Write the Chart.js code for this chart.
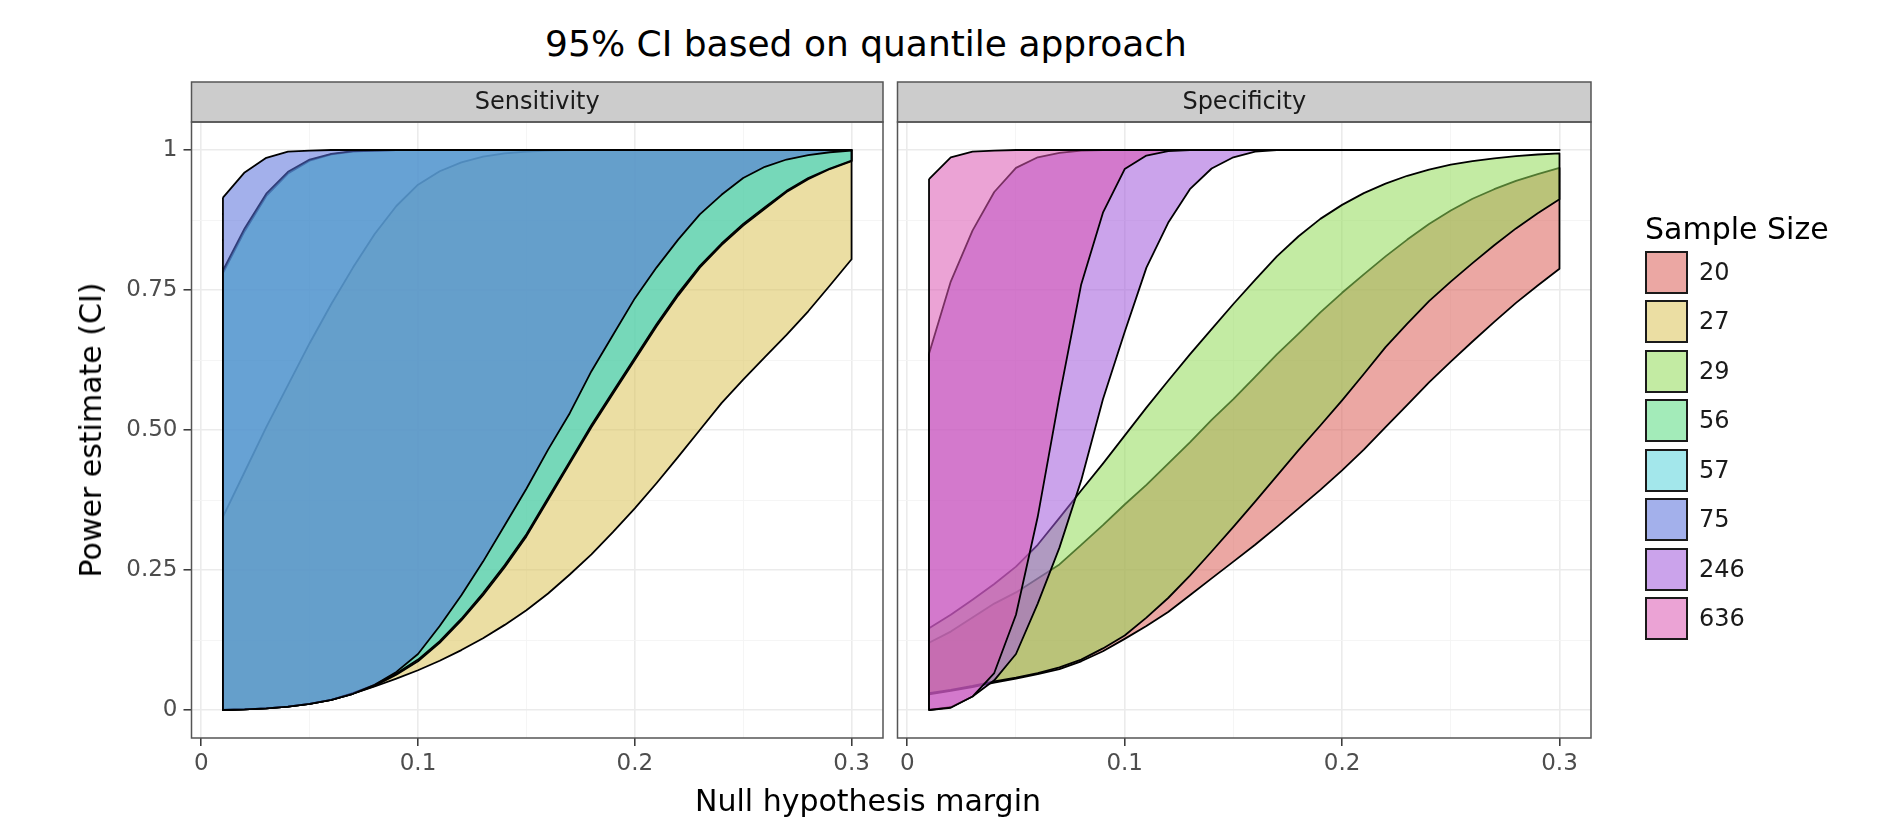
<!DOCTYPE html>
<html lang="en">
<head>
<meta charset="utf-8">
<title>95% CI based on quantile approach</title>
<script src="https://cdn.jsdelivr.net/npm/chart.js@4.4.0/dist/chart.umd.min.js"></script>
<style>
  html, body { margin: 0; padding: 0; background: #ffffff; }
  body { position: relative; width: 1899px; height: 821px; overflow: hidden; font-family: "DejaVu Sans", sans-serif; color: #000; }
  canvas { position: absolute; left: 0; top: 0; }
  .texto { position: absolute; white-space: nowrap; }
  #titulo { left: 366px; width: 1000px; top: 26px; font-size: 36px; line-height: 36px; text-align: center; }
  #titulo-x { left: 368px; width: 1000px; top: 786px; font-size: 30px; line-height: 30px; text-align: center; }
  #titulo-y { left: 91px; top: 430px; font-size: 30px; line-height: 30px; transform: translate(-50%, -50%) rotate(-90deg); }
  #legenda-titulo { left: 1645px; top: 214px; font-size: 30px; line-height: 30px; }
  .chave { position: absolute; left: 1645px; width: 43px; height: 43px; box-sizing: border-box; border: 2px solid #1a1a1a; }
  .rotulo { position: absolute; left: 1699px; font-size: 24px; line-height: 43px; color: #1a1a1a; }
</style>
</head>
<body>
<div id="titulo" class="texto">95% CI based on quantile approach</div>
<canvas id="grafico-sensibilidade" width="1899" height="821"></canvas>
<canvas id="grafico-especificidade" width="1899" height="821"></canvas>
<div id="titulo-y" class="texto">Power estimate (CI)</div>
<div id="titulo-x" class="texto">Null hypothesis margin</div>
<div id="legenda-titulo" class="texto">Sample Size</div>
<div id="legenda"></div>

<script>
// margem da hipotese nula (eixo x)
var xMargem = [0.01, 0.02, 0.03, 0.04, 0.05, 0.06, 0.07, 0.08, 0.09, 0.10,
  0.11, 0.12, 0.13, 0.14, 0.15, 0.16, 0.17, 0.18, 0.19, 0.20,
  0.21, 0.22, 0.23, 0.24, 0.25, 0.26, 0.27, 0.28, 0.29, 0.30];

var xMarcas = [0, 0.1, 0.2, 0.3];
var xMarcasMenores = [0.05, 0.15, 0.25];
var xRotulos = ["0", "0.1", "0.2", "0.3"];
var yMarcas = [0, 0.25, 0.5, 0.75, 1];
var yMarcasMenores = [0.125, 0.375, 0.625, 0.875];
var yRotulos = ["0", "0.25", "0.50", "0.75", "1"];

var paineis = ["Sensitivity", "Specificity"];
var tamanhos = ["20", "27", "29", "56", "57", "75", "246", "636"];
var cores = ["#DB5F57", "#DBC257", "#91DB57", "#57DB80", "#57D3DB", "#5770DB", "#A157DB", "#DB57B2"];

// Sensitivity - limites inferior / superior
var sens27Inf = [0.000, 0.001, 0.003, 0.006, 0.011, 0.018, 0.029, 0.042, 0.056, 0.071, 0.088, 0.107, 0.128, 0.152, 0.178, 0.208, 0.242, 0.278, 0.318, 0.360, 0.405, 0.452, 0.500, 0.548, 0.590, 0.630, 0.670, 0.712, 0.758, 0.805];
var sens27Sup = [0.345, 0.425, 0.505, 0.580, 0.655, 0.725, 0.790, 0.850, 0.900, 0.938, 0.962, 0.978, 0.988, 0.994, 0.997, 0.999, 1, 1, 1, 1, 1, 1, 1, 1, 1, 1, 1, 1, 1, 1];
var sens56Inf = [0.000, 0.001, 0.003, 0.006, 0.011, 0.018, 0.029, 0.043, 0.063, 0.087, 0.120, 0.160, 0.205, 0.255, 0.310, 0.375, 0.440, 0.505, 0.565, 0.625, 0.685, 0.740, 0.790, 0.830, 0.865, 0.895, 0.925, 0.948, 0.966, 0.980];
var sens56Sup = [0.780, 0.855, 0.918, 0.958, 0.981, 0.992, 0.997, 0.999, 1, 1, 1, 1, 1, 1, 1, 1, 1, 1, 1, 1, 1, 1, 1, 1, 1, 1, 1, 1, 1, 1];
var sens57Inf = [0.000, 0.001, 0.003, 0.006, 0.011, 0.018, 0.030, 0.045, 0.065, 0.090, 0.123, 0.163, 0.209, 0.259, 0.314, 0.379, 0.444, 0.509, 0.569, 0.629, 0.689, 0.744, 0.793, 0.833, 0.868, 0.898, 0.927, 0.950, 0.967, 0.981];
var sens57Sup = [0.785, 0.860, 0.922, 0.961, 0.983, 0.993, 0.998, 0.999, 1, 1, 1, 1, 1, 1, 1, 1, 1, 1, 1, 1, 1, 1, 1, 1, 1, 1, 1, 1, 1, 1];
var sens75Inf = [0.000, 0.001, 0.003, 0.006, 0.011, 0.018, 0.029, 0.045, 0.068, 0.100, 0.150, 0.205, 0.265, 0.330, 0.395, 0.465, 0.530, 0.605, 0.670, 0.735, 0.790, 0.840, 0.885, 0.920, 0.950, 0.970, 0.983, 0.991, 0.996, 0.999];
var sens75Sup = [0.915, 0.960, 0.986, 0.997, 0.999, 1, 1, 1, 1, 1, 1, 1, 1, 1, 1, 1, 1, 1, 1, 1, 1, 1, 1, 1, 1, 1, 1, 1, 1, 1];

// Specificity - limites inferior / superior
var spec20Inf = [0.028, 0.034, 0.041, 0.049, 0.056, 0.064, 0.073, 0.087, 0.105, 0.127, 0.150, 0.175, 0.205, 0.235, 0.265, 0.295, 0.327, 0.360, 0.393, 0.428, 0.465, 0.505, 0.545, 0.585, 0.622, 0.658, 0.693, 0.727, 0.758, 0.788];
var spec20Sup = [0.120, 0.140, 0.165, 0.190, 0.210, 0.235, 0.260, 0.295, 0.330, 0.367, 0.402, 0.440, 0.478, 0.518, 0.555, 0.595, 0.635, 0.672, 0.710, 0.745, 0.778, 0.810, 0.840, 0.868, 0.892, 0.913, 0.930, 0.945, 0.957, 0.968];
var spec29Inf = [0.030, 0.036, 0.043, 0.051, 0.058, 0.066, 0.076, 0.090, 0.110, 0.133, 0.165, 0.200, 0.240, 0.283, 0.327, 0.372, 0.418, 0.464, 0.508, 0.553, 0.600, 0.648, 0.690, 0.730, 0.765, 0.798, 0.830, 0.860, 0.887, 0.912];
var spec29Sup = [0.146, 0.170, 0.197, 0.225, 0.256, 0.295, 0.343, 0.392, 0.440, 0.490, 0.540, 0.588, 0.635, 0.680, 0.725, 0.768, 0.810, 0.846, 0.877, 0.902, 0.923, 0.940, 0.954, 0.965, 0.974, 0.980, 0.985, 0.989, 0.992, 0.994];
var spec246Inf = [0.000, 0.005, 0.024, 0.053, 0.100, 0.190, 0.290, 0.410, 0.555, 0.675, 0.790, 0.870, 0.930, 0.967, 0.987, 0.997, 1, 1, 1, 1, 1, 1, 1, 1, 1, 1, 1, 1, 1, 1];
var spec246Sup = [0.636, 0.765, 0.856, 0.925, 0.968, 0.987, 0.995, 0.999, 1, 1, 1, 1, 1, 1, 1, 1, 1, 1, 1, 1, 1, 1, 1, 1, 1, 1, 1, 1, 1, 1];
var spec636Inf = [0.000, 0.004, 0.024, 0.066, 0.170, 0.345, 0.560, 0.760, 0.888, 0.966, 0.990, 0.998, 1, 1, 1, 1, 1, 1, 1, 1, 1, 1, 1, 1, 1, 1, 1, 1, 1, 1];
var spec636Sup = [0.948, 0.987, 0.997, 0.999, 1, 1, 1, 1, 1, 1, 1, 1, 1, 1, 1, 1, 1, 1, 1, 1, 1, 1, 1, 1, 1, 1, 1, 1, 1, 1];

var bandasSens = [
  { n: "27", inf: sens27Inf, sup: sens27Sup },
  { n: "56", inf: sens56Inf, sup: sens56Sup },
  { n: "57", inf: sens57Inf, sup: sens57Sup },
  { n: "75", inf: sens75Inf, sup: sens75Sup }
];
var bandasSpec = [
  { n: "20", inf: spec20Inf, sup: spec20Sup },
  { n: "29", inf: spec29Inf, sup: spec29Sup },
  { n: "246", inf: spec246Inf, sup: spec246Sup },
  { n: "636", inf: spec636Inf, sup: spec636Sup }
];

var ALFA = 0.55;

function corAlfa(hex, a) {
  var r = parseInt(hex.substr(1, 2), 16);
  var g = parseInt(hex.substr(3, 2), 16);
  var b = parseInt(hex.substr(5, 2), 16);
  return "rgba(" + r + "," + g + "," + b + "," + a + ")";
}

// contorno da faixa: superior da esquerda p/ direita, inferior de volta
function poligono(inf, sup) {
  var pts = [];
  for (var i = 0; i < xMargem.length; i++) pts.push({ x: xMargem[i], y: sup[i] });
  for (var j = xMargem.length - 1; j >= 0; j--) pts.push({ x: xMargem[j], y: inf[j] });
  pts.push({ x: xMargem[0], y: sup[0] });
  return pts;
}

function montarDatasets(bandas) {
  return bandas.map(function (b, i) {
    var cor = cores[tamanhos.indexOf(b.n)];
    return {
      label: b.n,
      data: poligono(b.inf, b.sup),
      fill: "shape",
      backgroundColor: corAlfa(cor, ALFA),
      borderColor: "#000000",
      borderWidth: 1.8,
      borderJoinStyle: "round",
      pointRadius: 0,
      tension: 0,
      order: bandas.length - i
    };
  });
}

function marcasOrdenadas(a, b) {
  return a.concat(b).sort(function (p, q) { return p - q; });
}

// faixa cinza do titulo do painel + borda
var faixaPlugin = {
  id: "faixa",
  beforeDraw: function (chart) {
    var a = chart.chartArea, ctx = chart.ctx;
    ctx.save();
    ctx.fillStyle = "#cccccc";
    ctx.fillRect(a.left, a.top - 40, a.right - a.left, 40);
    ctx.restore();
  },
  afterDraw: function (chart) {
    var a = chart.chartArea, ctx = chart.ctx;
    ctx.save();
    ctx.strokeStyle = "#555555";
    ctx.lineWidth = 1.5;
    ctx.strokeRect(a.left, a.top - 40, a.right - a.left, 40);
    ctx.strokeRect(a.left, a.top, a.right - a.left, a.bottom - a.top);
    ctx.restore();
  }
};

function criarPainel(id, titulo, bandas, padding, mostrarY) {
  var graf = document.getElementById(id).getContext("2d");
  return new Chart(graf, {
    type: "line",
    data: { datasets: montarDatasets(bandas) },
    options: {
      responsive: false,
      animation: false,
      events: [],
      layout: { padding: padding },
      plugins: {
        legend: { display: false },
        tooltip: { enabled: false },
        title: {
          display: true,
          text: titulo,
          fullSize: false,
          color: "#1a1a1a",
          font: { size: 24, weight: "normal", family: "DejaVu Sans" },
          padding: { top: 6, bottom: 5.2 }
        }
      },
      scales: {
        x: {
          type: "linear",
          min: -0.0045,
          max: 0.3145,
          afterBuildTicks: function (s) {
            s.ticks = marcasOrdenadas(xMarcas, xMarcasMenores).map(function (v) { return { value: v }; });
          },
          afterFit: function (s) { s.height = 60; },
          border: { display: false },
          grid: {
            color: function (c) { return xMarcas.indexOf(c.tick.value) >= 0 ? "#ebebeb" : "#f4f4f4"; },
            lineWidth: function (c) { return xMarcas.indexOf(c.tick.value) >= 0 ? 1.6 : 0.9; },
            tickColor: function (c) { return xMarcas.indexOf(c.tick.value) >= 0 ? "#333333" : "rgba(0,0,0,0)"; },
            tickLength: 8,
            tickWidth: 1.5
          },
          ticks: {
            autoSkip: false,
            maxRotation: 0,
            padding: 4,
            color: "#4d4d4d",
            font: { size: 23, family: "DejaVu Sans" },
            callback: function (v) {
              var i = xMarcas.indexOf(v);
              return i >= 0 ? xRotulos[i] : "";
            }
          }
        },
        y: {
          type: "linear",
          min: -0.05,
          max: 1.05,
          afterBuildTicks: function (s) {
            s.ticks = marcasOrdenadas(yMarcas, yMarcasMenores).map(function (v) { return { value: v }; });
          },
          afterFit: function (s) { s.width = mostrarY ? 70 : 0; },
          border: { display: false },
          grid: {
            color: function (c) { return yMarcas.indexOf(c.tick.value) >= 0 ? "#ebebeb" : "#f4f4f4"; },
            lineWidth: function (c) { return yMarcas.indexOf(c.tick.value) >= 0 ? 1.6 : 0.9; },
            tickColor: function (c) { return yMarcas.indexOf(c.tick.value) >= 0 ? "#333333" : "rgba(0,0,0,0)"; },
            drawTicks: mostrarY,
            tickLength: 8,
            tickWidth: 1.5
          },
          ticks: {
            display: mostrarY,
            autoSkip: false,
            padding: 6,
            color: "#4d4d4d",
            font: { size: 23, family: "DejaVu Sans" },
            callback: function (v) {
              var i = yMarcas.indexOf(v);
              return i >= 0 ? yRotulos[i] : "";
            }
          }
        }
      }
    },
    plugins: [faixaPlugin]
  });
}

// legenda (Sample Size)
function montarLegenda() {
  var leg = document.getElementById("legenda");
  var html = "";
  for (var i = 0; i < tamanhos.length; i++) {
    var topo = 250.5 + i * 49.5;
    html += "<div class='chave' style='top:" + topo + "px;background:" + corAlfa(cores[i], ALFA) + "'></div>" +
      "<div class='rotulo' style='top:" + topo + "px'>" + tamanhos[i] + "</div>";
  }
  leg.innerHTML = html;
}

document.addEventListener("DOMContentLoaded", function () {
  Chart.defaults.font.family = "DejaVu Sans";
  //grafico 1
  criarPainel("grafico-sensibilidade", paineis[0], bandasSens,
    { left: 121.5, right: 1016, top: 82, bottom: 23 }, true);
  //grafico 2
  criarPainel("grafico-especificidade", paineis[1], bandasSpec,
    { left: 897.5, right: 308, top: 82, bottom: 23 }, false);
  montarLegenda();
});
</script>
</body>
</html>
